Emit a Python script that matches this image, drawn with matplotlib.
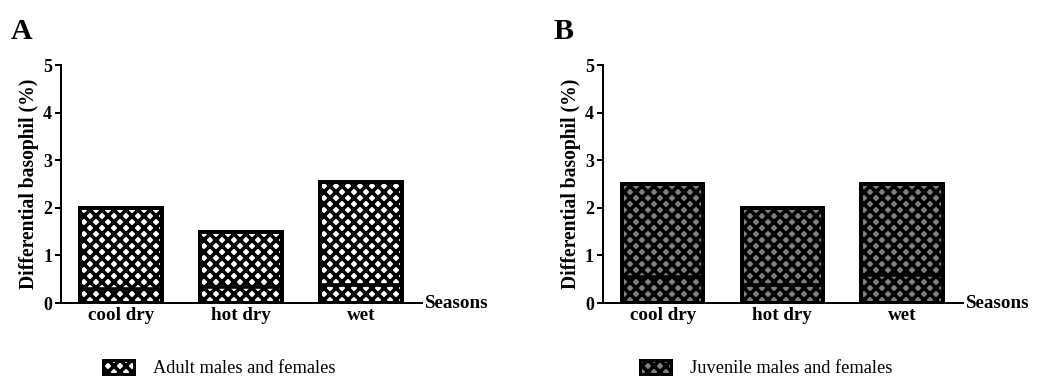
import numpy as np
import matplotlib.pyplot as plt
from matplotlib.patches import Patch

seasons = ['cool dry', 'hot dry', 'wet']
adult_top = [2.0, 1.5, 2.55]
adult_line = [0.30, 0.33, 0.37]
juvenile_top = [2.5, 2.0, 2.5]
juvenile_line = [0.55, 0.37, 0.58]
yticks = [0, 1, 2, 3, 4, 5]

plt.rcParams['font.family'] = 'Liberation Serif'
plt.rcParams['hatch.linewidth'] = 1.8
plt.rcParams['hatch.color'] = 'black'

fig = plt.figure(figsize=(1038/144, 382/144), dpi=144)
HATCH = 'xxxx'

def draw_panel(rect, tops, lines, fill, letter):
    ax = fig.add_axes(rect)
    x = np.arange(len(seasons))
    ax.bar(x, tops, width=0.68, color=fill, edgecolor='black',
           linewidth=2.0, hatch=HATCH, zorder=2)
    ax.hlines(lines, x - 0.34, x + 0.34, colors='black', linewidth=1.8, zorder=3)
    ax.set_xlim(-0.5, 2.51)
    ax.set_ylim(0, 5)
    ax.set_yticks(yticks)
    ax.set_xticks(x)
    ax.set_xticklabels(seasons, fontsize=9.5, fontweight='bold')
    ax.tick_params(axis='x', length=0, pad=2)
    ax.tick_params(axis='y', length=3, width=1.0, pad=1.5, labelsize=9)
    for t in ax.get_yticklabels():
        t.set_fontweight('bold')
    for s in ['top', 'right']:
        ax.spines[s].set_visible(False)
    for s in ['left', 'bottom']:
        ax.spines[s].set_linewidth(1.0)
    ax.set_ylabel('Differential basophil (%)', fontsize=9.8, fontweight='bold',
                  labelpad=2)
    ax.text(1.008, 0, 'Seasons', transform=ax.transAxes, fontsize=9.5,
            fontweight='bold', ha='left', va='center')
    ax.text(-0.138, 1.14, letter, transform=ax.transAxes, fontsize=15,
            fontweight='bold', ha='left', va='center')
    return ax

ax1 = draw_panel([0.0588, 0.2068, 0.3478, 0.623], adult_top, adult_line,
                 'white', 'A')
ax2 = draw_panel([0.5809, 0.2068, 0.3468, 0.623], juvenile_top, juvenile_line,
                 '#808080', 'B')

legend_kw = dict(loc='center left', frameon=False, fontsize=9.2,
                 handlelength=1.7, handleheight=0.8, handletextpad=1.0)
fig.legend(handles=[Patch(facecolor='white', edgecolor='black', hatch=HATCH,
                          linewidth=1.5, label='Adult males and females')],
           bbox_to_anchor=(0.0832, 0.035), **legend_kw)
fig.legend(handles=[Patch(facecolor='#808080', edgecolor='black', hatch=HATCH,
                          linewidth=1.5, label='Juvenile males and females')],
           bbox_to_anchor=(0.6005, 0.035), **legend_kw)

fig.savefig('out.png', dpi=144)
